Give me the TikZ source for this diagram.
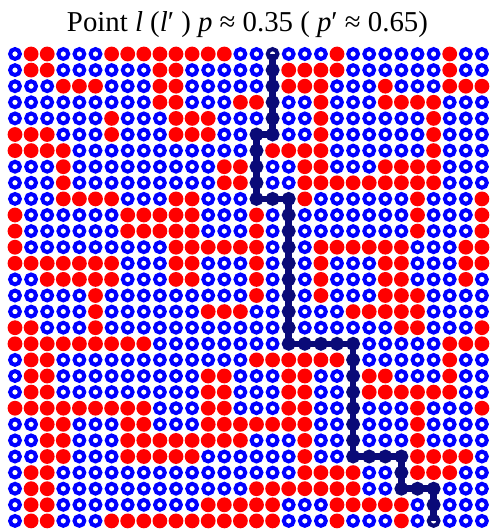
\documentclass[tikz,border=0pt]{standalone}
\usepackage{fontspec}
\setmainfont{Liberation Serif}
\definecolor{pathnavy}{RGB}{10,10,120}

\begin{document}
\begin{tikzpicture}[x=16.1pt,y=-16.1pt,
  cell0/.style={draw=blue,circle,line width=4pt,inner sep=0pt,minimum size=9.8pt},
  cell1/.style={fill=red,circle,inner sep=0pt,minimum size=14.8pt},
  cell2/.style={draw=pathnavy,circle,line width=4pt,inner sep=0pt,minimum size=9.8pt}]
\useasboundingbox (0.068,-2.354) rectangle (30.503,30.627);
\node[anchor=base,font=\fontsize{28.8}{32}\selectfont] (title) at (15.44,-0.385)
  {Point \textit{l} (\textit{l}′ ) \textit{p} ≈ 0.35 ( \textit{p}′ ≈ 0.65)};
% lattice: 0 = blue site, 1 = red site, 2 = site on the crossing path
\foreach \cells [count=\r] in {
{0,1,1,0,0,0,1,1,1,1,1,1,1,1,0,0,2,0,0,0,1,0,0,0,0,0,0,1,0,0},
{0,1,1,0,0,0,0,0,0,1,1,0,0,0,0,0,2,1,1,1,1,0,0,0,0,0,0,1,0,0},
{0,0,0,1,1,1,0,0,0,1,1,0,0,0,0,0,2,1,1,1,0,0,0,1,0,0,0,1,1,1},
{0,0,0,0,0,0,0,0,0,1,1,0,0,0,1,1,2,0,0,1,0,0,0,1,1,1,1,0,0,0},
{0,0,0,0,0,0,1,0,0,0,1,1,1,0,0,0,2,0,0,1,0,0,0,0,0,0,1,0,0,0},
{1,1,1,0,0,0,1,0,0,0,1,1,1,0,0,2,2,0,0,1,0,0,0,0,0,0,1,0,0,0},
{1,1,1,1,0,0,0,0,0,0,0,0,0,0,0,2,1,1,1,1,0,0,0,0,0,0,1,0,0,0},
{0,0,0,1,0,0,0,0,0,0,0,0,0,1,1,2,0,0,1,1,0,0,0,1,1,1,1,0,0,0},
{0,0,0,1,0,0,0,0,0,0,0,0,0,1,1,2,0,0,1,1,1,1,1,1,1,1,1,0,0,0},
{0,0,0,1,1,1,1,0,0,0,1,1,0,0,0,2,2,2,1,0,0,0,0,0,0,1,0,0,0,1},
{1,0,0,0,0,0,0,1,1,1,1,1,0,0,0,1,0,2,0,0,0,0,0,0,0,1,0,0,0,1},
{1,0,0,0,0,0,0,1,1,1,1,1,0,0,0,1,0,2,0,0,0,0,0,0,0,1,0,0,0,1},
{1,0,0,0,0,0,0,0,0,0,1,1,1,1,1,1,0,2,0,1,1,1,1,1,1,0,0,0,1,1},
{1,1,1,1,1,1,1,0,0,0,1,1,0,0,0,1,0,2,0,1,0,0,0,1,1,0,0,0,1,1},
{0,0,1,1,1,1,1,0,0,0,1,1,0,0,0,1,0,2,0,1,0,0,0,1,1,0,0,0,1,0},
{0,0,0,0,0,1,0,0,0,0,0,0,0,0,0,1,0,2,0,1,0,0,0,1,1,1,0,0,0,0},
{0,0,0,0,0,1,0,0,0,0,0,0,1,1,1,0,0,2,0,0,0,1,1,1,1,1,0,0,0,0},
{1,1,0,0,0,1,0,0,0,0,0,0,0,0,0,0,0,2,0,0,0,0,0,0,1,1,0,0,0,1},
{1,1,1,1,1,1,1,1,1,0,0,0,0,0,0,0,0,2,2,2,2,2,0,0,0,0,0,1,1,1},
{0,1,1,0,0,0,0,0,0,0,0,0,0,0,0,1,1,1,1,1,1,2,0,0,0,0,0,1,0,0},
{0,1,1,0,0,0,0,0,0,0,0,0,1,1,0,0,0,1,1,0,0,2,1,1,0,0,0,1,0,0},
{0,1,1,0,0,0,0,0,0,0,0,0,1,1,0,0,0,1,1,0,0,2,1,1,1,1,1,1,0,0},
{1,1,1,1,1,1,1,1,1,0,0,0,1,1,0,0,0,1,1,0,0,2,0,0,0,1,0,0,0,1},
{0,0,1,1,0,0,0,1,1,0,0,0,1,1,1,1,1,1,1,0,0,2,0,0,0,1,0,0,0,0},
{0,0,1,1,0,0,0,1,1,1,1,1,1,1,1,0,0,0,1,0,0,2,0,0,0,1,0,0,0,0},
{0,0,1,1,0,0,0,1,1,1,1,1,0,0,0,0,0,0,1,0,0,2,2,2,2,1,1,1,1,0},
{0,1,1,0,0,0,0,0,0,0,0,0,0,0,0,0,0,0,1,1,1,1,0,0,2,1,1,1,0,0},
{0,1,1,0,0,0,0,0,0,0,0,0,0,0,0,1,1,1,1,1,1,1,0,0,2,2,2,0,0,0},
{0,1,1,0,0,0,0,0,0,0,0,0,1,1,1,1,1,0,0,0,1,1,1,1,1,0,2,0,0,0},
{0,1,1,0,0,0,1,1,1,1,1,1,1,1,1,1,1,0,0,0,1,0,0,0,1,0,2,0,0,0}}{
  \foreach \v [count=\c] in \cells
    \node[cell\v] (s-\r-\c) at (\c,\r) {};
}
\draw[pathnavy,line width=6.5pt,line join=miter] (s-1-17.center) -- (s-6-17.center)
  -- (s-6-16.center) -- (s-10-16.center) -- (s-10-18.center) -- (s-19-18.center)
  -- (s-19-22.center) -- (s-26-22.center) -- (s-26-25.center) -- (s-28-25.center)
  -- (s-28-27.center) -- (s-30-27.center);
\end{tikzpicture}
\end{document}
